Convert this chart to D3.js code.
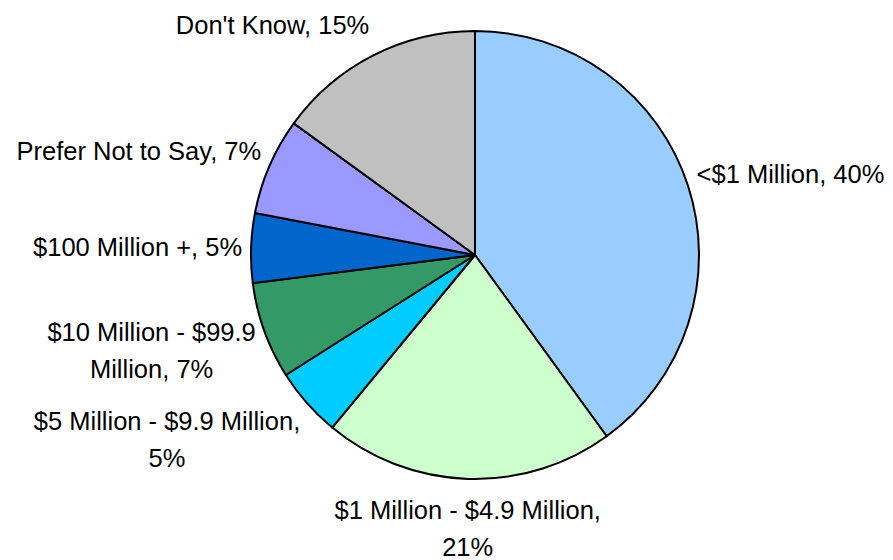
<!DOCTYPE html>
<html><head><meta charset="utf-8">
<script src="https://cdn.jsdelivr.net/npm/d3@7"></script>
<style>body{margin:0;background:#fff}svg{display:block}</style>
</head><body>
<svg id="c" width="893" height="560"></svg>
<script>
const categories = ["<$1 Million", "$1 Million - $4.9 Million", "$5 Million - $9.9 Million", "$10 Million - $99.9 Million", "$100 Million +", "Prefer Not to Say", "Don't Know"];
const values = [40, 21, 5, 7, 5, 7, 15];
const colors = ["#99CCFF", "#CCFFCC", "#00CCFF", "#339966", "#0066CC", "#9999FF", "#C0C0C0"];
// label text lines (as printed in the chart)
const labelLines = [
  ["<$1 Million, 40%"],
  ["$1 Million - $4.9 Million,", "21%"],
  ["$5 Million - $9.9 Million,", "5%"],
  ["$10 Million - $99.9", "Million, 7%"],
  ["$100 Million +, 5%"],
  ["Prefer Not to Say, 7%"],
  ["Don't Know, 15%"]
];

const W = 893, H = 560, cx = 475, cy = 255, R = 224;
const svg = d3.select("#c");
const g = svg.append("g").attr("transform", `translate(${cx},${cy})`);
const pie = d3.pie().sort(null).value(d => d)(values);
const arc = d3.arc().innerRadius(0).outerRadius(R);
g.selectAll("path").data(pie).join("path")
  .attr("d", arc).attr("fill", (d, i) => colors[i])
  .attr("stroke", "#000").attr("stroke-width", 2).attr("stroke-linejoin", "round");

const fs = 25.5, lh = 37, gap = 9;
pie.forEach((d, i) => {
  const a = (d.startAngle + d.endAngle) / 2;
  const s = Math.sin(a), c = Math.cos(a);
  const px = (R + gap) * s, py = -(R + gap) * c;
  const lines = labelLines[i];
  const h = lines.length * lh;
  const yc = py - c * (h / 2 + 3 + 9 * Math.abs(s));
  const t = g.append("text").attr("text-anchor", "middle")
    .attr("font-family", "'Liberation Sans Narrow','Arial Narrow',sans-serif")
    .attr("font-size", fs).attr("fill", "#000");
  const spans = lines.map((L, k) =>
    t.append("tspan").attr("y", yc - h / 2 + lh * k + lh / 2 + fs * 0.35).text(L));
  const bw = d3.max(spans, sp => sp.node().getComputedTextLength());
  let mx = px;
  if (Math.abs(s) >= 0.3) mx = s > 0 ? px + bw / 2 : px - bw / 2;
  spans.forEach(sp => sp.attr("x", mx));
});
</script>
</body></html>
